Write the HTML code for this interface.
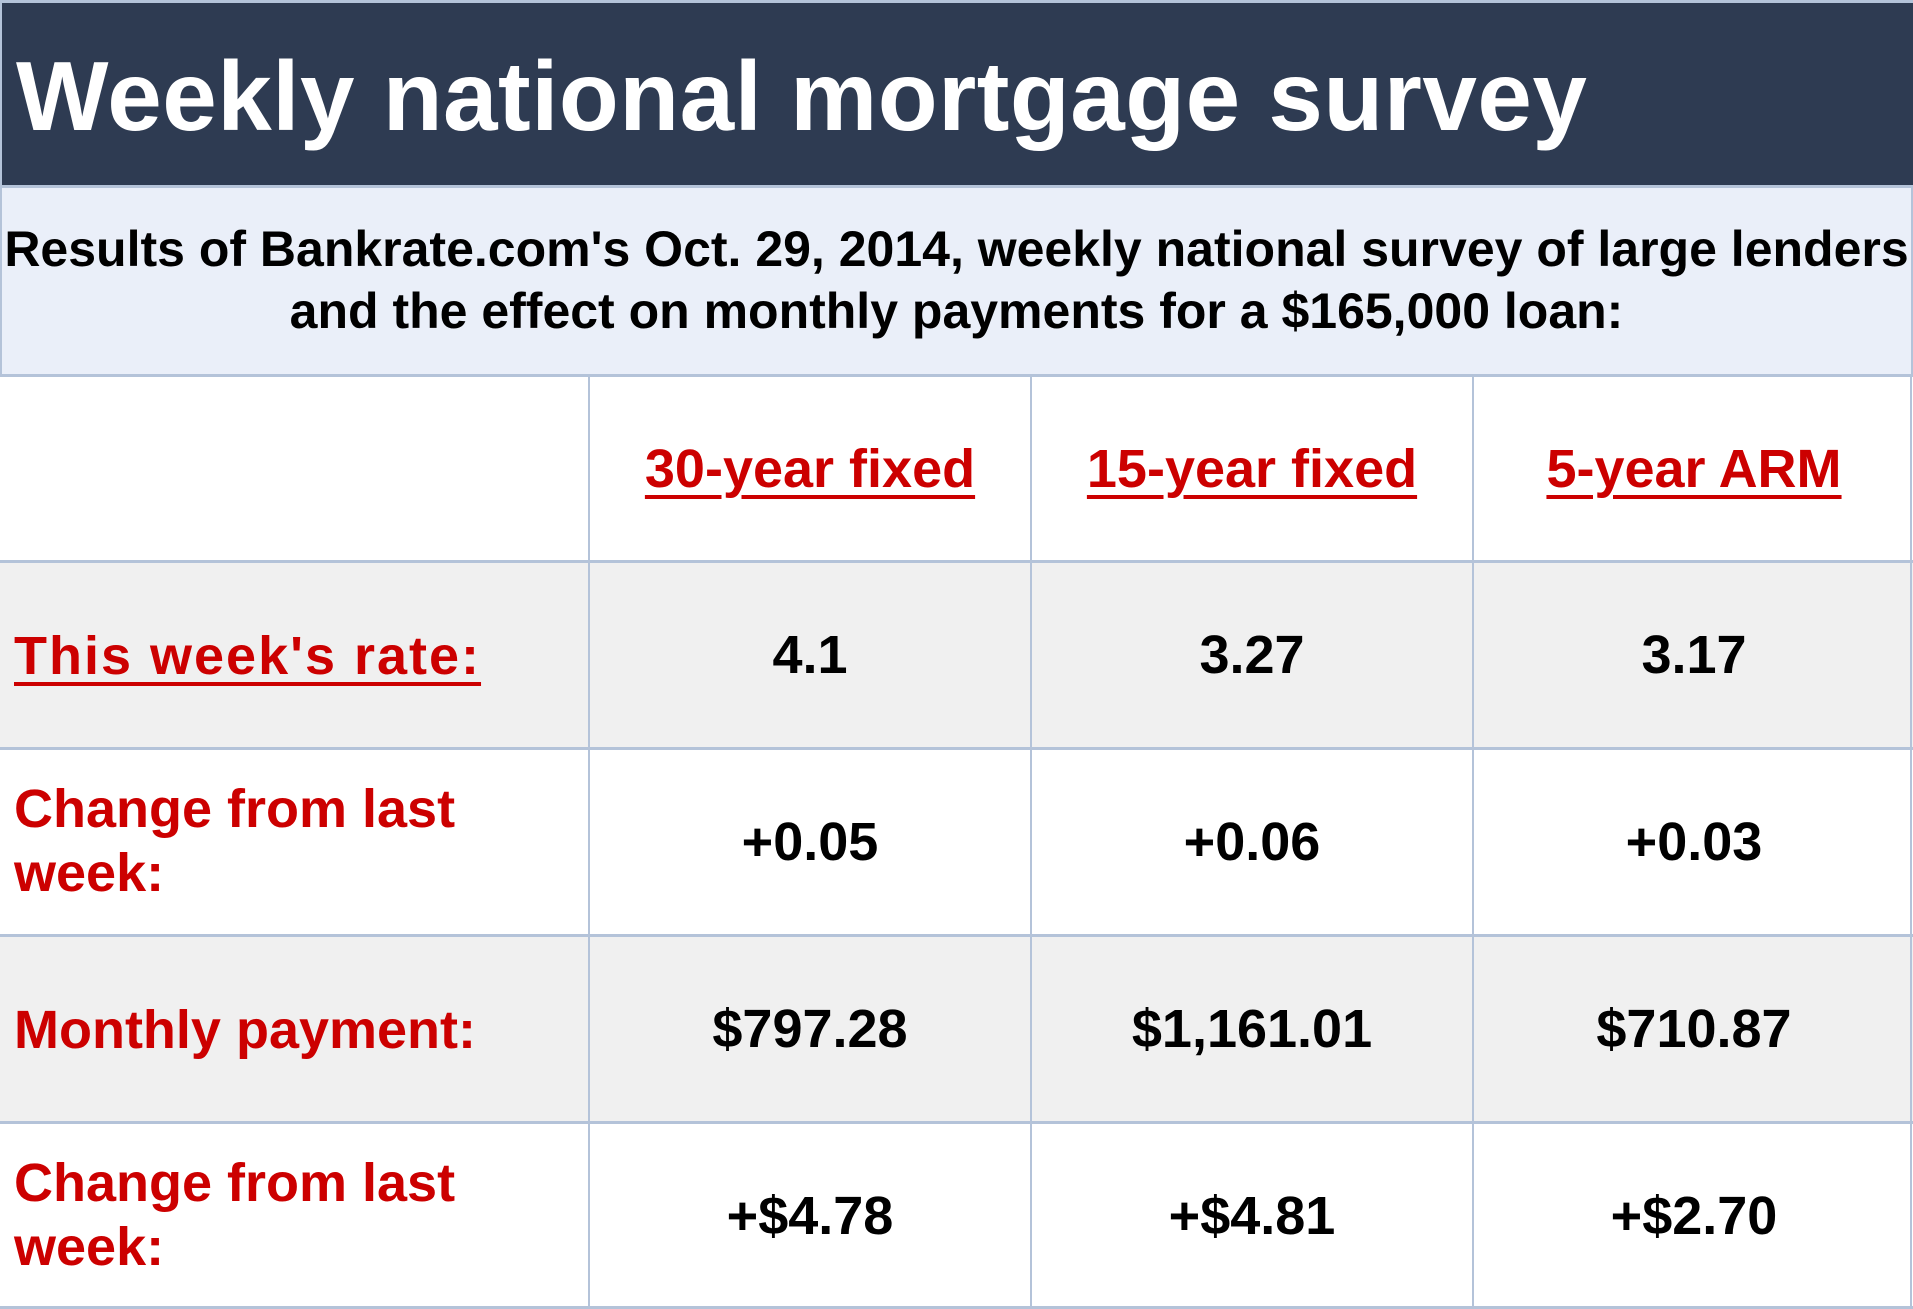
<!DOCTYPE html>
<html><head><meta charset="utf-8"><style>
*{margin:0;padding:0;box-sizing:border-box}
body{width:1913px;height:1309px;background:#fff;font-family:"Liberation Sans",Arial,sans-serif;font-weight:bold;position:relative;overflow:hidden}
.hdr{position:absolute;left:0;top:0;width:1913px;height:186px;background:#2e3b52;border-top:3px solid #b4c3d9;border-left:2px solid #b4c3d9}
.hdr div{position:absolute;left:14px;top:38px;font-size:98px;color:#fff;line-height:110px;white-space:nowrap;letter-spacing:0.5px}
.sub{position:absolute;left:0;top:185px;width:1913px;height:192px;background:#eaeff9;border-top:3px solid #b4c3d9;border-bottom:3px solid #b4c3d9;border-left:2px solid #b4c3d9;border-right:2px solid #b4c3d9;text-align:center;font-size:50px;line-height:62px;color:#000;padding-top:30px;white-space:nowrap;letter-spacing:0}
.row{position:absolute;left:0;width:1913px;border-bottom:3px solid #b4c3d9}
.g{background:#f0f0f0}
.vl{position:absolute;top:376px;height:933px;width:2px;background:#b4c3d9}
.c{position:absolute;text-align:center;font-size:54px;color:#000;width:442px;white-space:nowrap}
.h{color:#cc0000;text-decoration:underline;text-decoration-thickness:4px;text-underline-offset:8px}
.l{position:absolute;left:14px;font-size:54px;color:#cc0000;line-height:64px}
</style></head><body>
<div class="hdr"><div>Weekly national mortgage survey</div></div>
<div class="sub">Results of Bankrate.com's Oct. 29, 2014, weekly national survey of large lenders<br>and the effect on monthly payments for a $165,000 loan:</div>
<div class="row" style="top:377px;height:186px"></div>
<div class="row g" style="top:563px;height:187px"></div>
<div class="row" style="top:750px;height:187px"></div>
<div class="row g" style="top:937px;height:187px"></div>
<div class="row" style="top:1124px;height:185px"></div>
<div class="vl" style="left:588px"></div>
<div class="vl" style="left:1030px"></div>
<div class="vl" style="left:1472px"></div>
<div class="vl" style="left:1910px"></div>

<div class="c h" style="left:589px;top:438px">30-year fixed</div>
<div class="c h" style="left:1031px;top:438px">15-year fixed</div>
<div class="c h" style="left:1473px;top:438px">5-year ARM</div>

<div class="l" style="top:624px;text-decoration:underline;text-decoration-thickness:4px;text-underline-offset:8px;letter-spacing:2px">This week's rate:</div>
<div class="c" style="left:589px;top:624px">4.1</div>
<div class="c" style="left:1031px;top:624px">3.27</div>
<div class="c" style="left:1473px;top:624px">3.17</div>

<div class="l" style="top:777px">Change from last<br>week:</div>
<div class="c" style="left:589px;top:811px">+0.05</div>
<div class="c" style="left:1031px;top:811px">+0.06</div>
<div class="c" style="left:1473px;top:811px">+0.03</div>

<div class="l" style="top:998px">Monthly payment:</div>
<div class="c" style="left:589px;top:998px">$797.28</div>
<div class="c" style="left:1031px;top:998px">$1,161.01</div>
<div class="c" style="left:1473px;top:998px">$710.87</div>

<div class="l" style="top:1151px">Change from last<br>week:</div>
<div class="c" style="left:589px;top:1185px">+$4.78</div>
<div class="c" style="left:1031px;top:1185px">+$4.81</div>
<div class="c" style="left:1473px;top:1185px">+$2.70</div>
</body></html>
